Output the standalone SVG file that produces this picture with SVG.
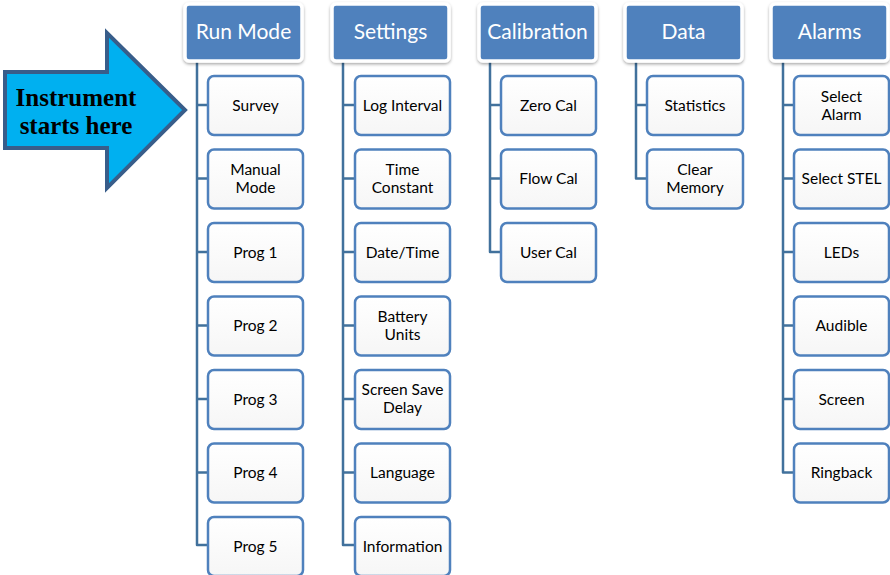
<svg xmlns="http://www.w3.org/2000/svg" width="890" height="575" viewBox="0 0 890 575">
<defs>
<filter id="sh" x="-20%" y="-20%" width="140%" height="150%">
<feDropShadow dx="0" dy="1.5" stdDeviation="1.5" flood-color="#000" flood-opacity="0.35"/>
</filter>
<linearGradient id="cg" x1="0" y1="0" x2="0" y2="1">
<stop offset="0" stop-color="#ffffff"/>
<stop offset="1" stop-color="#f6f6f6"/>
</linearGradient>
</defs>
<style>
.hd{fill:#4F81BD;stroke:#fff;stroke-width:3.5;filter:url(#sh)}
.ht{font-family:Lato,"Open Sans",sans-serif;font-size:21px;fill:#fff;text-anchor:middle}
.cb{fill:url(#cg);stroke:#4F81BD;stroke-width:2.5}
.ct{font-family:Lato,"Open Sans",sans-serif;font-size:15.5px;fill:#000;text-anchor:middle}
.cn{fill:none;stroke:#41719C;stroke-width:2.5;stroke-linejoin:round}
.at{font-family:"Liberation Serif",serif;font-weight:bold;font-size:25px;text-anchor:middle;fill:#000}
</style>
<rect width="890" height="575" fill="#fff"/>
<g id="arrow">
<polygon points="5,72 107,72 107,33 185,110 107,188 107,148 5,148" fill="#00B0F0" stroke="#385D8A" stroke-width="4" stroke-linejoin="miter"/>
<text class="at" x="76" y="106">Instrument</text>
<text class="at" x="76" y="134">starts here</text>
</g>
<g id="connectors">
<path class="cn" d="M197,62 V545 H208 M197,105 H208 M197,178.5 H208 M197,252 H208 M197,325.5 H208 M197,399 H208 M197,472.5 H208"/>
<path class="cn" d="M343,62 V545 H355 M343,105 H355 M343,178.5 H355 M343,252 H355 M343,325.5 H355 M343,399 H355 M343,472.5 H355"/>
<path class="cn" d="M490,62 V252 H501 M490,105 H501 M490,178.5 H501"/>
<path class="cn" d="M636,62 V178.5 H647 M636,105 H647"/>
<path class="cn" d="M783,62 V472.5 H794 M783,105 H794 M783,178.5 H794 M783,252 H794 M783,325.5 H794 M783,399 H794"/>
</g>
<g id="h-runmode"><rect class="hd" x="185" y="4" width="117" height="57" rx="4"/><text class="ht" x="243.5" y="39">Run Mode</text></g>
<g id="h-settings"><rect class="hd" x="332" y="4" width="117" height="57" rx="4"/><text class="ht" x="390.5" y="39">Settings</text></g>
<g id="h-calibration"><rect class="hd" x="479" y="4" width="117" height="57" rx="4"/><text class="ht" x="537.5" y="39">Calibration</text></g>
<g id="h-data"><rect class="hd" x="625" y="4" width="117" height="57" rx="4"/><text class="ht" x="683.5" y="39">Data</text></g>
<g id="h-alarms"><rect class="hd" x="771" y="4" width="117" height="57" rx="4"/><text class="ht" x="829.5" y="39">Alarms</text></g>

<g id="n-survey"><rect class="cb" x="208" y="76" width="95" height="59" rx="6"/><text class="ct" x="255.5" y="110.5">Survey</text></g>
<g id="n-manual"><rect class="cb" x="208" y="149.5" width="95" height="59" rx="6"/><text class="ct" x="255.5" y="174.5">Manual</text><text class="ct" x="255.5" y="192.5">Mode</text></g>
<g id="n-prog1"><rect class="cb" x="208" y="223" width="95" height="59" rx="6"/><text class="ct" x="255.5" y="257.5">Prog 1</text></g>
<g id="n-prog2"><rect class="cb" x="208" y="296.5" width="95" height="59" rx="6"/><text class="ct" x="255.5" y="331">Prog 2</text></g>
<g id="n-prog3"><rect class="cb" x="208" y="370" width="95" height="59" rx="6"/><text class="ct" x="255.5" y="404.5">Prog 3</text></g>
<g id="n-prog4"><rect class="cb" x="208" y="443.5" width="95" height="59" rx="6"/><text class="ct" x="255.5" y="478">Prog 4</text></g>
<g id="n-prog5"><rect class="cb" x="208" y="517" width="95" height="59" rx="6"/><text class="ct" x="255.5" y="551.5">Prog 5</text></g>

<g id="n-log"><rect class="cb" x="355" y="76" width="95" height="59" rx="6"/><text class="ct" x="402.5" y="110.5">Log Interval</text></g>
<g id="n-time"><rect class="cb" x="355" y="149.5" width="95" height="59" rx="6"/><text class="ct" x="402.5" y="174.5">Time</text><text class="ct" x="402.5" y="192.5">Constant</text></g>
<g id="n-date"><rect class="cb" x="355" y="223" width="95" height="59" rx="6"/><text class="ct" x="402.5" y="257.5">Date/Time</text></g>
<g id="n-battery"><rect class="cb" x="355" y="296.5" width="95" height="59" rx="6"/><text class="ct" x="402.5" y="321.5">Battery</text><text class="ct" x="402.5" y="339.5">Units</text></g>
<g id="n-screensave"><rect class="cb" x="355" y="370" width="95" height="59" rx="6"/><text class="ct" x="402.5" y="395">Screen Save</text><text class="ct" x="402.5" y="413">Delay</text></g>
<g id="n-language"><rect class="cb" x="355" y="443.5" width="95" height="59" rx="6"/><text class="ct" x="402.5" y="478">Language</text></g>
<g id="n-info"><rect class="cb" x="355" y="517" width="95" height="59" rx="6"/><text class="ct" x="402.5" y="551.5">Information</text></g>

<g id="n-zero"><rect class="cb" x="501" y="76" width="95" height="59" rx="6"/><text class="ct" x="548.5" y="110.5">Zero Cal</text></g>
<g id="n-flow"><rect class="cb" x="501" y="149.5" width="95" height="59" rx="6"/><text class="ct" x="548.5" y="184">Flow Cal</text></g>
<g id="n-user"><rect class="cb" x="501" y="223" width="95" height="59" rx="6"/><text class="ct" x="548.5" y="257.5">User Cal</text></g>

<g id="n-stats"><rect class="cb" x="647" y="76" width="96" height="59" rx="6"/><text class="ct" x="695" y="110.5">Statistics</text></g>
<g id="n-clear"><rect class="cb" x="647" y="149.5" width="96" height="59" rx="6"/><text class="ct" x="695" y="174.5">Clear</text><text class="ct" x="695" y="192.5">Memory</text></g>

<g id="n-selalarm"><rect class="cb" x="794" y="76" width="95" height="59" rx="6"/><text class="ct" x="841.5" y="101.5">Select</text><text class="ct" x="841.5" y="119.5">Alarm</text></g>
<g id="n-selstel"><rect class="cb" x="794" y="149.5" width="95" height="59" rx="6"/><text class="ct" x="841.5" y="184">Select STEL</text></g>
<g id="n-leds"><rect class="cb" x="794" y="223" width="95" height="59" rx="6"/><text class="ct" x="841.5" y="257.5">LEDs</text></g>
<g id="n-audible"><rect class="cb" x="794" y="296.5" width="95" height="59" rx="6"/><text class="ct" x="841.5" y="331">Audible</text></g>
<g id="n-screen"><rect class="cb" x="794" y="370" width="95" height="59" rx="6"/><text class="ct" x="841.5" y="404.5">Screen</text></g>
<g id="n-ringback"><rect class="cb" x="794" y="443.5" width="95" height="59" rx="6"/><text class="ct" x="841.5" y="478">Ringback</text></g>
</svg>
